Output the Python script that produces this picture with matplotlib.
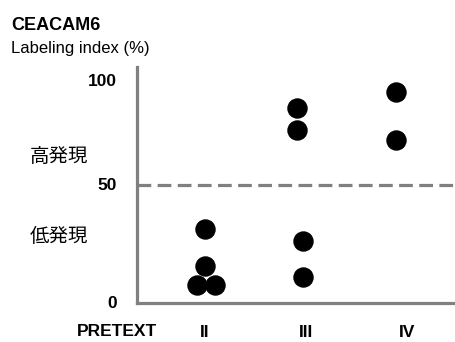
import matplotlib
matplotlib.use('Agg')
import matplotlib.pyplot as plt
from matplotlib import transforms

plt.rcParams['font.family'] = ['Liberation Sans', 'Noto Sans CJK JP', 'DejaVu Sans']

stages = ['II', 'III', 'IV']
point_stage = [0, 0, 0, 0, 1, 1, 1, 1, 2, 2]
point_jitter = [0.0, 0.0, -0.08, 0.10, -0.09, -0.09, -0.03, -0.03, -0.11, -0.11]
point_value = [31.4, 15.7, 7.6, 7.6, 82.5, 73.3, 26.4, 11.1, 89.3, 69.1]
cutoff = 50
ytick_values = [0, 50, 94]
ytick_labels = ['0', '50', '100']
band_labels = ['高発現', '低発現']
band_values = [62, 28]

fig = plt.figure(figsize=(4.55, 3.42), dpi=100)
ax = fig.add_axes([137 / 455, 1 - 303 / 342, 1 - 137 / 455, (303 - 67) / 342])

xs = [s + j for s, j in zip(point_stage, point_jitter)]
ax.scatter(xs, point_value, s=19 ** 2 * 0.52, color='black', zorder=3, clip_on=False)

ax.axhline(cutoff, color='#808080', lw=2.3, dashes=(4.3, 2.0), zorder=2)

ax.set_xlim(-0.673, 2.475)
ax.set_ylim(0, 100)

for side in ['top', 'right']:
    ax.spines[side].set_visible(False)
for side in ['left', 'bottom']:
    ax.spines[side].set_color('#808080')
    ax.spines[side].set_linewidth(2.3)

ax.set_yticks([])
ax.set_xticks(range(len(stages)))
ax.set_xticklabels(stages, fontsize=12.5, fontweight='bold')
ax.tick_params(axis='x', length=0, pad=16)

trans = transforms.blended_transform_factory(ax.transAxes, ax.transData)
for v, lab in zip(ytick_values, ytick_labels):
    ax.text(-0.063, v, lab, transform=trans, ha='right', va='center',
            fontsize=12.5, fontweight='bold')
for v, lab in zip(band_values, band_labels):
    ax.text(-0.245, v, lab, transform=trans, ha='center', va='center',
            fontsize=14, family=['Noto Sans CJK JP', 'DejaVu Sans'])

fig.text(157 / 455, 1 - 332 / 342, 'PRETEXT', ha='right', va='center',
         fontsize=12.5, fontweight='bold')
fig.text(11 / 455, 1 - 25 / 342, 'CEACAM6', ha='left', va='center',
         fontsize=13, fontweight='bold')
fig.text(11 / 455, 1 - 48 / 342, 'Labeling index (%)', ha='left', va='center',
         fontsize=12)

fig.savefig('out.png', dpi=100)
